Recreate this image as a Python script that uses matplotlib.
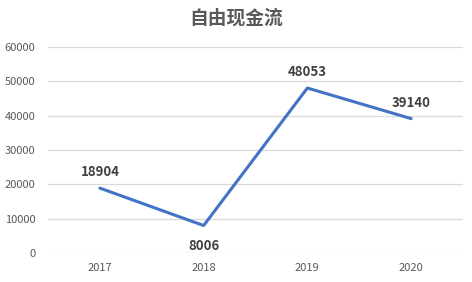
import matplotlib
matplotlib.use('Agg')
import matplotlib.pyplot as plt

plt.rcParams['font.family'] = ['Noto Sans CJK SC', 'DejaVu Sans']

# Data
years = ['2017', '2018', '2019', '2020']
free_cash_flow = [18904, 8006, 48053, 39140]
label_above = [True, False, True, True]
y_ticks = [0, 10000, 20000, 30000, 40000, 50000, 60000]

fig = plt.figure(figsize=(4.72, 2.82), dpi=100)
ax = fig.add_axes([0.1017, 0.1028, 0.8793, 0.7305])

x = range(len(years))
ax.plot(x, free_cash_flow, color='#4472C4', linewidth=2.2, solid_capstyle='round')

for xi, v, above in zip(x, free_cash_flow, label_above):
    off = 6.5 if above else -10
    ax.annotate(str(v), (xi, v), xytext=(0, off), textcoords='offset points',
                ha='center', va='bottom' if above else 'top',
                fontsize=9.5, fontweight='bold', color='#404040')

ax.set_xlim(-0.5, len(years) - 0.5)
ax.set_ylim(0, 60000)
ax.set_yticks(y_ticks)
ax.set_xticks(list(x))
ax.set_xticklabels(years)
ax.grid(axis='y', color='#D9D9D9', linewidth=0.9)
ax.set_axisbelow(True)
for s in ax.spines.values():
    s.set_visible(False)
ax.tick_params(length=0, labelsize=8, labelcolor='#595959')
ax.tick_params(axis='x', pad=7)
ax.tick_params(axis='y', pad=9)

fig.text(0.5, 0.935, '自由现金流', ha='center', va='center',
         fontsize=13.5, fontweight='bold', color='#595959')

fig.savefig('out.png', dpi=100)
